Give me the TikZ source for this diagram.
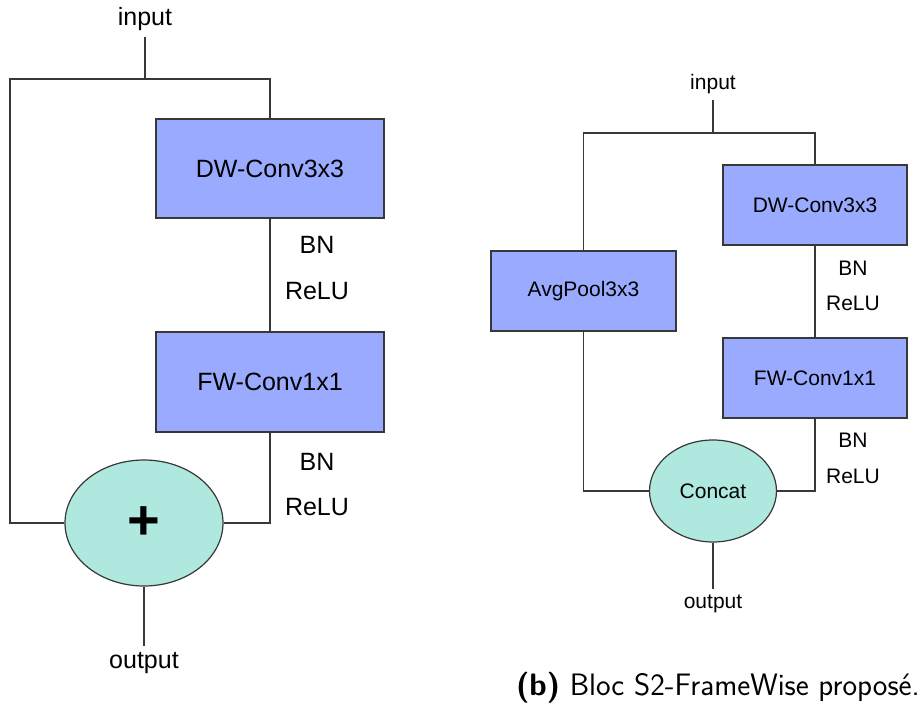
\documentclass[tikz,border=0pt]{standalone}
\usepackage{fontspec}
\setmainfont{Liberation Sans}
\usepackage{tikz}
\usetikzlibrary{shapes.geometric, positioning, calc}
\definecolor{blkfill}{HTML}{9AABFF}
\definecolor{sumfill}{HTML}{AFE8DE}
\definecolor{edge}{HTML}{383838}
\tikzset{
  blk/.style={rectangle, draw=edge, fill=blkfill, line width=1.2pt,
              inner sep=0pt, align=center},
  sum/.style={ellipse, draw=edge, fill=sumfill, line width=1.2pt,
              inner sep=0pt, align=center},
  txt/.style={inner sep=1pt, text=black},
  port/.style={txt, inner sep=6pt},
  wire/.style={draw=edge, line width=1.2pt},
  bigfont/.style={font=\fontsize{25}{30}\selectfont},
  smallfont/.style={font=\fontsize{21}{25}\selectfont},
}
\begin{document}
\begin{tikzpicture}[x=1pt, y=-1pt]
  \useasboundingbox (0,0) rectangle (922,708);
  % (a) residual block
  \begin{scope}[bigfont]
    \node[port] (in1) at (145,19) {input};
    \coordinate (sp1) at (145,79);
    \coordinate (sk1) at (10,79);
    \node[blk, minimum width=228, minimum height=99] (dw1) at (270,168.5) {DW-Conv3x3};
    \node[blk, minimum width=228, minimum height=100] (fw1) at (270,382) {FW-Conv1x1};
    \node[sum, minimum width=158, minimum height=126] (add1) at (144,523)
      {\fontsize{56}{56}\selectfont\bfseries +};
    \node[port] (out1) at (144,663) {output};
    \node[txt] (bn1a)   at (317,245) {BN};
    \node[txt] (relu1a) at (317,291) {ReLU};
    \node[txt] (bn1b)   at (317,462) {BN};
    \node[txt] (relu1b) at (317,507) {ReLU};
    \draw[wire] (in1.south) -- (sp1);
    \draw[wire] (sp1) -| (dw1.north);
    \draw[wire] (sp1) -- (sk1) |- (add1.west);
    \draw[wire] (dw1.south) -- (fw1.north);
    \draw[wire] (fw1.south) |- (add1.east);
    \draw[wire] (add1.south) -- (out1.north);
  \end{scope}
  % (b) S2-FrameWise block
  \begin{scope}[smallfont]
    \node[port] (in2) at (713,84) {input};
    \coordinate (sp2) at (713,133);
    \node[blk, minimum width=185, minimum height=80] (avg2) at (583.5,291) {AvgPool3x3};
    \node[blk, minimum width=184, minimum height=80] (dw2) at (815,205) {DW-Conv3x3};
    \node[blk, minimum width=184, minimum height=80] (fw2) at (815,378) {FW-Conv1x1};
    \node[sum, minimum width=127, minimum height=102] (cat2) at (713,491) {Concat};
    \node[port] (out2) at (713,604) {output};
    \node[txt] (bn2a)   at (853,268) {BN};
    \node[txt] (relu2a) at (853,303) {ReLU};
    \node[txt] (bn2b)   at (853,440) {BN};
    \node[txt] (relu2b) at (853,476) {ReLU};
    \draw[wire] (in2.south) -- (sp2);
    \draw[wire] (sp2) -| (dw2.north);
    \draw[wire] (sp2) -| (avg2.north);
    \draw[wire] (dw2.south) -- (fw2.north);
    \draw[wire] (fw2.south) |- (cat2.east);
    \draw[wire] (avg2.south) |- (cat2.west);
    \draw[wire] (cat2.south) -- (out2.north);
  \end{scope}
  \node[txt, anchor=east, font=\fontsize{31}{36}\selectfont\sffamily]
    (cap) at (921,688) {\textbf{(b)} Bloc S2-FrameWise proposé.};
\end{tikzpicture}
\end{document}
